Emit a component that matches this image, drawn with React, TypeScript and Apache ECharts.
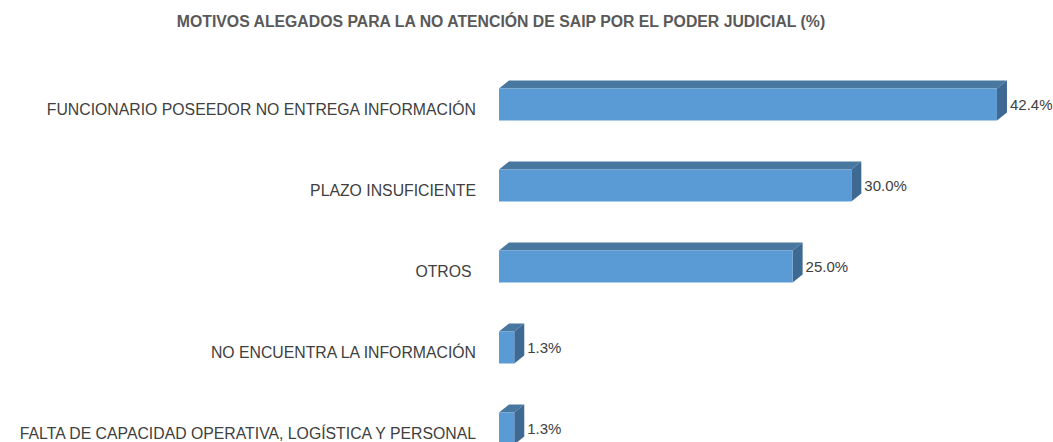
import React, { useEffect, useRef } from "react";
import * as echarts from "echarts";

const title = "MOTIVOS ALEGADOS PARA LA NO ATENCIÓN DE SAIP POR EL PODER JUDICIAL (%)";
const categories = [
  "FUNCIONARIO POSEEDOR NO ENTREGA INFORMACIÓN",
  "PLAZO INSUFICIENTE",
  "OTROS ",
  "NO ENCUENTRA LA INFORMACIÓN",
  "FALTA DE CAPACIDAD OPERATIVA, LOGÍSTICA Y PERSONAL",
];
const values = [42.4, 30.0, 25.0, 1.3, 1.3];

const FRONT = "#5b9bd5";
const TOP = "#48779f";
const SIDE = "#3d6993";
const DX = 10;
const DY = 8;

export default function App() {
  const ref = useRef<HTMLDivElement>(null);
  useEffect(() => {
    if (!ref.current) return;
    const chart = echarts.init(ref.current, undefined, { renderer: "svg" });
    chart.setOption({
      animation: false,
      backgroundColor: "#ffffff",
      title: {
        text: title,
        left: 496,
        textAlign: "center",
        top: 8,
        textStyle: {
          fontFamily: "Liberation Sans",
          fontSize: 15.8,
          fontWeight: "bold",
          color: "#595959",
        },
      },
      grid: {
        left: 499,
        right: 25.5,
        top: 64,
        bottom: -27,
        containLabel: false,
        outerBoundsMode: "none",
      },
      xAxis: {
        type: "value",
        min: 0,
        max: 45,
        show: false,
      },
      yAxis: {
        type: "category",
        inverse: true,
        data: categories,
        axisLine: { show: false },
        axisTick: { show: false },
        splitLine: { show: false },
        axisLabel: {
          margin: 23,
          fontFamily: "Liberation Sans",
          fontSize: 15.8,
          color: "#404040",
          verticalAlign: "top",
          lineHeight: 10,
        },
      },
      series: [
        {
          type: "custom",
          data: values.map((v, i) => [v, i]),
          encode: { x: 0, y: 1 },
          clip: false,
          renderItem: (params: any, api: any) => {
            const v = api.value(0);
            const i = api.value(1);
            const p0 = api.coord([0, i]);
            const p1 = api.coord([v, i]);
            const bh = api.size([0, 1])[1] * 0.395;
            const x0 = p0[0];
            const x1 = p1[0];
            const yt = p0[1] - bh / 2;
            const yb = p0[1] + bh / 2;
            return {
              type: "group",
              children: [
                {
                  type: "polygon",
                  shape: { points: [[x0, yt], [x0 + DX, yt - DY], [x1 + DX, yt - DY], [x1, yt]] },
                  style: { fill: TOP },
                },
                {
                  type: "polygon",
                  shape: { points: [[x1, yt], [x1 + DX, yt - DY], [x1 + DX, yb - DY], [x1, yb]] },
                  style: { fill: SIDE },
                },
                {
                  type: "rect",
                  shape: { x: x0, y: yt, width: x1 - x0, height: bh },
                  style: { fill: FRONT },
                },
                {
                  type: "text",
                  x: x1 + DX + 3,
                  y: p0[1],
                  style: {
                    text: v.toFixed(1) + "%",
                    fontFamily: "Liberation Sans",
                    fontSize: 15,
                    fill: "#404040",
                    verticalAlign: "middle",
                    align: "left",
                  },
                },
              ],
            };
          },
        },
      ],
    });
    return () => chart.dispose();
  }, []);
  return (
    <div
      ref={ref}
      style={{ position: "absolute", left: 0, top: 0, width: 1053, height: 442 }}
    />
  );
}
